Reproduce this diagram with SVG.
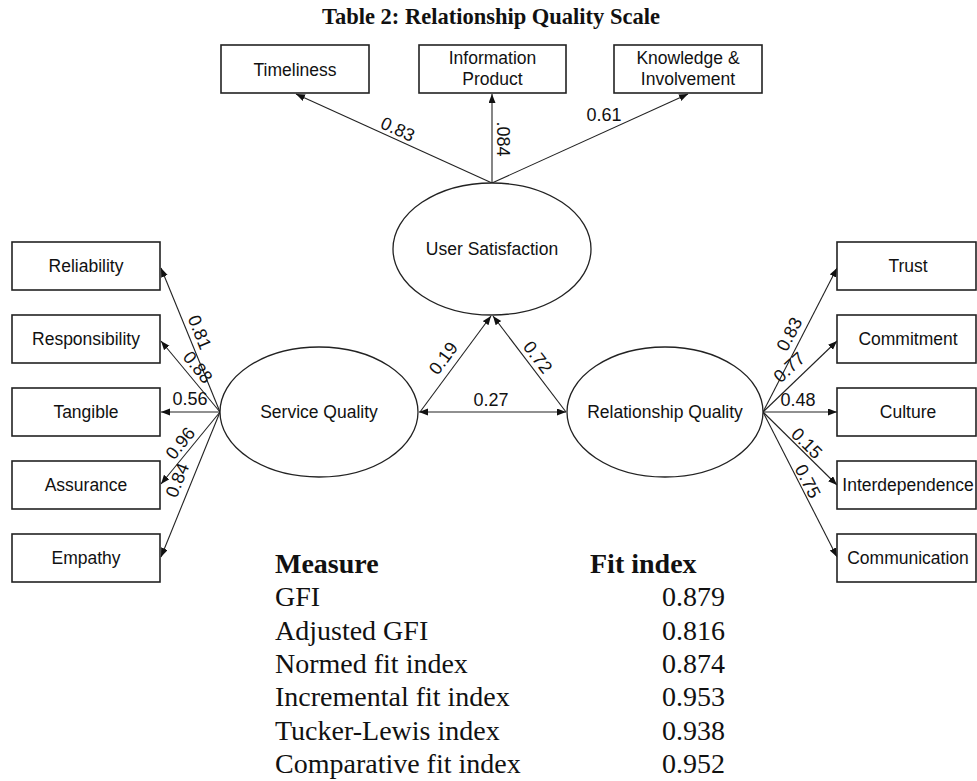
<svg xmlns="http://www.w3.org/2000/svg" width="977" height="781" viewBox="0 0 977 781">
<defs>
<marker id="ah" markerUnits="userSpaceOnUse" markerWidth="10" markerHeight="8" refX="9" refY="3.5" orient="auto-start-reverse">
<path d="M0,0 L9,3.5 L0,7 z" fill="#111"/>
</marker>
<style>
.box{fill:#fff;stroke:#222;stroke-width:1.6}
.ell{fill:#fff;stroke:#222;stroke-width:1.3}
.lbl{font-family:"Liberation Sans",Arial,sans-serif;font-size:17.5px;fill:#111;text-anchor:middle}
.num{font-family:"Liberation Sans",Arial,sans-serif;font-size:18px;fill:#111;text-anchor:middle}
.con line{stroke:#222;stroke-width:1.1;fill:none;marker-end:url(#ah)}
.tbl{font-family:"Liberation Serif","Times New Roman",serif;font-size:28px;fill:#111}
.b{font-weight:bold}
</style>
</defs>
<rect width="977" height="781" fill="#fff"/>
<text x="491" y="24" text-anchor="middle" font-family="Liberation Serif,'Times New Roman',serif" font-weight="bold" font-size="22.5" fill="#111">Table 2: Relationship Quality Scale</text>

<g id="connectors" class="con">
<line x1="492" y1="183" x2="296" y2="94"/>
<line x1="492" y1="183" x2="492" y2="94"/>
<line x1="492" y1="183" x2="688" y2="94"/>
<line x1="220" y1="412" x2="161" y2="268"/>
<line x1="220" y1="412" x2="161" y2="341"/>
<line x1="220" y1="412" x2="161" y2="412"/>
<line x1="220" y1="412" x2="161" y2="484"/>
<line x1="220" y1="412" x2="161" y2="557"/>
<line x1="763" y1="412" x2="837" y2="268"/>
<line x1="763" y1="412" x2="837" y2="341"/>
<line x1="763" y1="412" x2="837" y2="412"/>
<line x1="763" y1="412" x2="837" y2="485"/>
<line x1="763" y1="412" x2="837" y2="557"/>
<line x1="420" y1="412" x2="491" y2="316"/>
<line x1="566" y1="412" x2="493" y2="316"/>
<line x1="419" y1="412" x2="566" y2="412" marker-start="url(#ah)"/>
</g>

<g id="timeliness"><rect class="box" x="221" y="45" width="148" height="48"/><text class="lbl" x="295" y="76">Timeliness</text></g>
<g id="information-product"><rect class="box" x="419" y="45" width="147" height="48"/><text class="lbl" x="492.5" y="64">Information</text><text class="lbl" x="492.5" y="85">Product</text></g>
<g id="knowledge-involvement"><rect class="box" x="614" y="45" width="148" height="48"/><text class="lbl" x="688" y="64">Knowledge &amp;</text><text class="lbl" x="688" y="85">Involvement</text></g>

<g id="user-satisfaction"><ellipse class="ell" cx="492" cy="249" rx="99" ry="66"/><text class="lbl" x="492" y="255">User Satisfaction</text></g>
<g id="service-quality"><ellipse class="ell" cx="319" cy="412" rx="99" ry="65"/><text class="lbl" x="319" y="418">Service Quality</text></g>
<g id="relationship-quality"><ellipse class="ell" cx="665" cy="412" rx="98" ry="65"/><text class="lbl" x="665" y="418">Relationship Quality</text></g>

<g id="reliability"><rect class="box" x="12" y="242" width="148" height="48" stroke-width="2.2"/><text class="lbl" x="86" y="272">Reliability</text></g>
<g id="responsibility"><rect class="box" x="12" y="315" width="148" height="48"/><text class="lbl" x="86" y="345">Responsibility</text></g>
<g id="tangible"><rect class="box" x="12" y="388" width="148" height="48"/><text class="lbl" x="86" y="418">Tangible</text></g>
<g id="assurance"><rect class="box" x="12" y="461" width="148" height="48"/><text class="lbl" x="86" y="491">Assurance</text></g>
<g id="empathy"><rect class="box" x="12" y="534" width="148" height="48"/><text class="lbl" x="86" y="564">Empathy</text></g>

<g id="trust"><rect class="box" x="837" y="242" width="139" height="48"/><text class="lbl" x="908" y="272">Trust</text></g>
<g id="commitment"><rect class="box" x="837" y="315" width="139" height="48"/><text class="lbl" x="908" y="345">Commitment</text></g>
<g id="culture"><rect class="box" x="837" y="388" width="139" height="48"/><text class="lbl" x="908" y="418">Culture</text></g>
<g id="interdependence"><rect class="box" x="837" y="461" width="139" height="48"/><text class="lbl" x="908" y="491">Interdependence</text></g>
<g id="communication"><rect class="box" x="837" y="534" width="139" height="48"/><text class="lbl" x="908" y="564">Communication</text></g>

<g id="path-labels">
<text class="num" transform="translate(398,129) rotate(24.7)" y="6.5">0.83</text>
<text class="num" transform="translate(497,139) rotate(90)" y="0">.084</text>
<text class="num" x="604" y="121">0.61</text>
<text class="num" transform="translate(200,332) rotate(68)" y="6.5">0.81</text>
<text class="num" transform="translate(198,367) rotate(50.7)" y="6.5">0.88</text>
<text class="num" x="190" y="405">0.56</text>
<text class="num" transform="translate(180,443) rotate(-50.7)" y="6.5">0.96</text>
<text class="num" transform="translate(177,480) rotate(-68)" y="6.5">0.84</text>
<text class="num" transform="translate(789,334) rotate(-62.8)" y="6.5">0.83</text>
<text class="num" transform="translate(789,367) rotate(-43)" y="6.5">0.77</text>
<text class="num" x="798" y="406">0.48</text>
<text class="num" transform="translate(807,443) rotate(44.6)" y="6.5">0.15</text>
<text class="num" transform="translate(808,481) rotate(62.8)" y="6.5">0.75</text>
<text class="num" transform="translate(443,358) rotate(-53.4)" y="6.5">0.19</text>
<text class="num" transform="translate(538,357) rotate(52.3)" y="6.5">0.72</text>
<text class="num" x="491" y="406">0.27</text>
</g>

<g id="fit-table" class="tbl">
<text class="b" x="275" y="573">Measure</text>
<text class="b" x="590" y="573">Fit index</text>
<text x="275" y="606">GFI</text><text x="725" y="606" text-anchor="end">0.879</text>
<text x="275" y="640">Adjusted GFI</text><text x="725" y="640" text-anchor="end">0.816</text>
<text x="275" y="673">Normed fit index</text><text x="725" y="673" text-anchor="end">0.874</text>
<text x="275" y="706">Incremental fit index</text><text x="725" y="706" text-anchor="end">0.953</text>
<text x="275" y="740">Tucker-Lewis index</text><text x="725" y="740" text-anchor="end">0.938</text>
<text x="275" y="773">Comparative fit index</text><text x="725" y="773" text-anchor="end">0.952</text>
</g>
</svg>
